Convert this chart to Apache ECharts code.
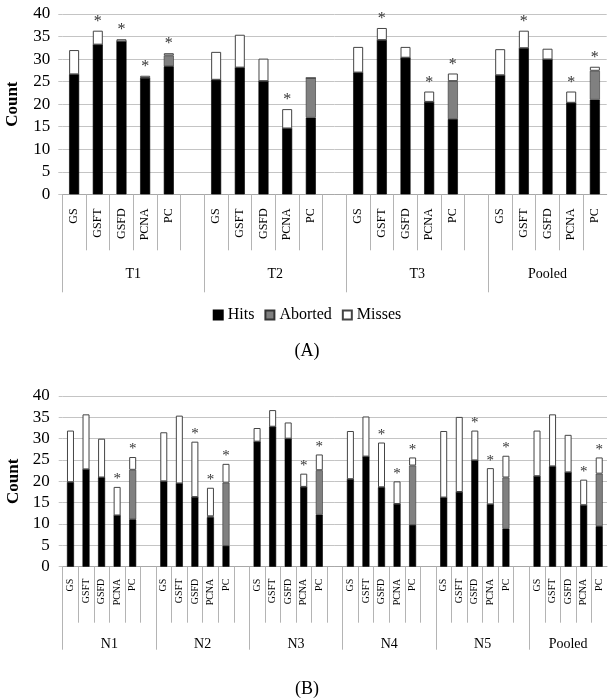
<!DOCTYPE html>
<html>
<head>
<meta charset="utf-8">
<script src="https://cdn.jsdelivr.net/npm/echarts@6/dist/echarts.min.js"></script>
<style>
html,body{margin:0;padding:0;background:#fff;}
#chart{width:614px;height:699px;}
</style>
</head>
<body>
<div id="chart"></div>
<script>
// ---- data ----
const subCats = ['GS', 'GSFT', 'GSFD', 'PCNA', 'PC'];
const groupsA = ['T1', 'T2', 'T3', 'Pooled'];
const groupsB = ['N1', 'N2', 'N3', 'N4', 'N5', 'Pooled'];
const yTicks = [0, 5, 10, 15, 20, 25, 30, 35, 40];

// Panel A (per group: GS, GSFT, GSFD, PCNA, PC)
const hitsA    = [26.6, 33.2, 33.9, 25.8, 28.4,  25.4, 28.1, 25.1, 14.6, 17.0,  27.0, 34.2, 30.3, 20.5, 16.7,  26.4, 32.4, 29.9, 20.3, 21.0];
const abortedA = [0, 0, 0, 0, 2.4,               0, 0, 0, 0, 8.8,               0, 0, 0, 0, 8.4,               0, 0, 0, 0, 6.4];
const missesA  = [5.4, 3.1, 0.5, 0.5, 0.5,       6.2, 7.3, 5.0, 4.3, 0,         5.7, 2.7, 2.4, 2.3, 1.7,       5.8, 3.9, 2.4, 2.5, 0.9];
const starsA   = [0, 1, 1, 1, 1,  0, 0, 0, 1, 0,  0, 1, 0, 1, 1,  0, 1, 0, 1, 1];

// Panel B
const hitsB    = [19.8, 22.8, 20.9, 12.0, 11.1,  20.0, 19.5, 16.3, 11.6, 4.9,  29.3, 32.8, 30.0, 18.7, 12.2,  20.5, 25.8, 18.6, 14.7, 9.8,  16.2, 17.5, 24.9, 14.6, 8.9,  21.2, 23.5, 22.1, 14.4, 9.5];
const abortedB = [0, 0, 0, 0, 11.6,              0, 0, 0, 0.2, 14.8,         0, 0, 0, 0, 10.4,              0, 0, 0, 0, 13.9,             0, 0, 0, 0, 12.0,             0, 0, 0, 0, 12.3];
const missesB  = [12.1, 12.9, 9.1, 6.7, 3.0,     11.5, 15.9, 13.0, 6.7, 4.4,  3.2, 3.9, 3.8, 3.1, 3.7,        11.3, 9.4, 10.5, 5.3, 1.9,    15.6, 17.6, 7.0, 8.5, 5.1,    10.7, 12.2, 8.8, 6.0, 3.8];
const starsB   = [0, 0, 0, 1, 1,  0, 0, 1, 1, 1,  0, 0, 0, 1, 1,  0, 0, 1, 1, 1,  0, 0, 1, 1, 1,  0, 0, 0, 1, 1];

// ---- helpers: lay groups out with a blank slot between them ----
function slots(groups, arr, blank) {
  const out = [];
  groups.forEach((g, gi) => {
    for (let k = 0; k < subCats.length; k++) out.push(arr[gi * subCats.length + k]);
    if (gi < groups.length - 1) out.push(blank);
  });
  return out;
}
function catNames(groups) {
  return slots(groups, groups.flatMap(() => subCats), '');
}
function boundaries(groups) {
  const n = groups.length * 6 - 1, b = [];
  for (let i = 0; i < n; i++) b.push(i);
  return b;
}
function groupStarts(groups) { return groups.map((g, i) => i * 6); }
function groupCenters(groups) {
  return groups.map((g, i) => i < groups.length - 1 ? i * 6 + 3 : i * 6 + 2.5);
}

const serif = 'Liberation Serif';
const gridColor = '#c4c4c4';
const sepColor = '#b4b4b4';

function makeAxes(groups, gridIndex, catFont, catMargin, shortLen, longLen, grpMargin) {
  const n = groups.length * 6 - 1;
  const centers = groupCenters(groups);
  return [
    { type: 'category', gridIndex, data: catNames(groups),
      axisLine: { show: true, lineStyle: { color: '#a8a8a8', width: 1 } },
      axisTick: { show: false },
      axisLabel: { interval: 0, rotate: 90, margin: catMargin, fontFamily: serif, fontSize: catFont, color: '#000' },
      splitLine: { show: false } },
    { type: 'value', gridIndex, min: 0, max: n, position: 'bottom',
      axisLine: { show: false }, splitLine: { show: false },
      axisTick: { show: true, customValues: boundaries(groups), length: shortLen, lineStyle: { color: sepColor } },
      axisLabel: { show: false } },
    { type: 'value', gridIndex, min: 0, max: n, position: 'bottom',
      axisLine: { show: false }, splitLine: { show: false },
      axisTick: { show: true, customValues: groupStarts(groups), length: longLen, lineStyle: { color: sepColor } },
      axisLabel: { show: true, customValues: centers, margin: grpMargin, fontFamily: serif, fontSize: 14, color: '#000',
        formatter: v => { const i = centers.indexOf(v); return i >= 0 ? groups[i] : ''; } } }
  ];
}

function yAxis(gridIndex, margin) {
  return { type: 'value', gridIndex, min: yTicks[0], max: yTicks[yTicks.length - 1], interval: 5,
    name: 'Count', nameLocation: 'middle', nameGap: 41,
    nameTextStyle: { fontFamily: serif, fontSize: 17, fontWeight: 'bold', color: '#000' },
    axisLine: { show: false },
    axisTick: { show: true, length: 4, lineStyle: { color: gridColor } },
    axisLabel: { margin, fontFamily: serif, fontSize: 17, color: '#000' },
    splitLine: { show: true, lineStyle: { color: gridColor, width: 1 } } };
}

function makeSeries(groups, hits, aborted, misses, stars, xIdx, yIdx, stack, barW, starSize, starDist) {
  const starSlots = slots(groups, stars, 0);
  const common = { type: 'bar', stack, xAxisIndex: xIdx, yAxisIndex: yIdx, barWidth: barW };
  return [
    Object.assign({ name: 'Hits', data: slots(groups, hits, '-'),
      itemStyle: { color: '#000', borderColor: '#000', borderWidth: 0.6 } }, common),
    Object.assign({ name: 'Aborted', data: slots(groups, aborted, '-'),
      itemStyle: { color: '#808080', borderColor: '#333', borderWidth: 0.6 } }, common),
    Object.assign({ name: 'Misses', data: slots(groups, misses, '-'),
      itemStyle: { color: '#fff', borderColor: '#444', borderWidth: 1 },
      label: { show: true, position: 'top', distance: starDist, fontFamily: serif, fontSize: starSize, color: '#333',
        formatter: p => starSlots[p.dataIndex] ? '*' : '' } }, common)
  ];
}

const chart = echarts.init(document.getElementById('chart'), null, { renderer: 'canvas' });
const option = {
  animation: false,
  backgroundColor: '#fff',
  textStyle: { fontFamily: serif },
  title: [
    { text: '(A)', left: 'center', top: 337, textStyle: { fontFamily: serif, fontSize: 18, fontWeight: 'normal', color: '#000' } },
    { text: '(B)', left: 'center', top: 675, textStyle: { fontFamily: serif, fontSize: 18, fontWeight: 'normal', color: '#000' } }
  ],
  legend: { data: ['Hits', 'Aborted', 'Misses'], left: 'center', top: 302, icon: 'rect',
    itemWidth: 9, itemHeight: 9, itemGap: 10,
    textStyle: { fontFamily: serif, fontSize: 16, color: '#000' } },
  grid: [
    { left: 62.3, right: 7.3, top: 14, height: 180.3, containLabel: false, outerBoundsMode: 'none' },
    { left: 62.7, right: 7, top: 396, height: 170.7, containLabel: false, outerBoundsMode: 'none' }
  ],
  xAxis: [
    ...makeAxes(groupsA, 0, 12, 14, 56, 98, 73),
    ...makeAxes(groupsB, 1, 10, 12, 56, 83, 71)
  ],
  yAxis: [ yAxis(0, 12), yAxis(1, 13) ],
  series: [
    ...makeSeries(groupsA, hitsA, abortedA, missesA, starsA, 0, 0, 'A', 10, 16, 1),
    ...makeSeries(groupsB, hitsB, abortedB, missesB, starsB, 3, 1, 'B', 7, 15, 0)
  ]
};
chart.setOption(option);
</script>
</body>
</html>
